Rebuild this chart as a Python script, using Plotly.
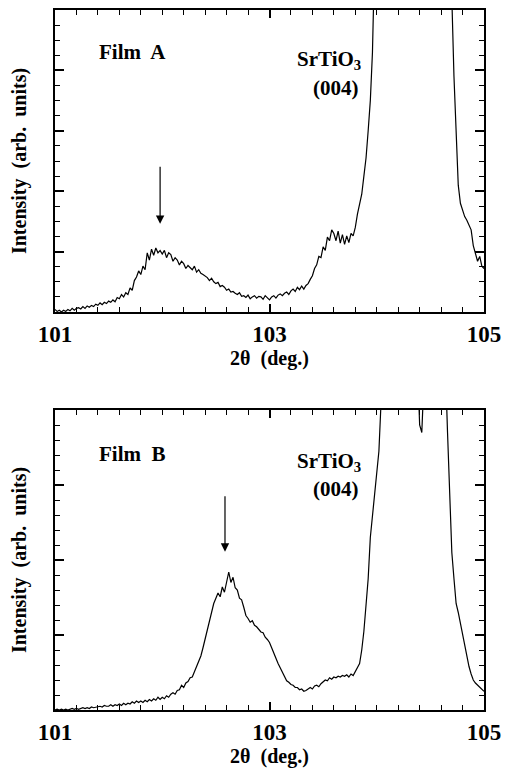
import plotly.graph_objects as go
from plotly.subplots import make_subplots

# 2-theta scan grid: 101.00 .. 105.00 deg, step 0.02
two_theta = [round(101.0 + 0.02 * i, 2) for i in range(201)]

# Film A intensity (arb. units, axis 0..5)
film_a = [
    0.04, 0.01, 0.03, 0.00, 0.03,
    0.01, 0.04, 0.02, 0.06, 0.03,
    0.06, 0.07, 0.05, 0.09, 0.06,
    0.10, 0.08, 0.11, 0.09, 0.13,
    0.11, 0.15, 0.12, 0.16, 0.14,
    0.18, 0.16, 0.20, 0.17, 0.24,
    0.22, 0.29, 0.25, 0.32, 0.29,
    0.40, 0.36, 0.52, 0.58, 0.68,
    0.62, 0.76, 0.70, 0.98, 0.86,
    1.04, 0.94, 1.06, 0.98, 1.02,
    0.96, 1.02, 0.90, 0.98, 0.95,
    0.84, 0.90, 0.86, 0.78, 0.84,
    0.80, 0.72, 0.77, 0.74, 0.70,
    0.76, 0.66, 0.70, 0.64, 0.62,
    0.60, 0.57, 0.52, 0.56, 0.50,
    0.47, 0.49, 0.42, 0.44, 0.41,
    0.36, 0.38, 0.33, 0.34, 0.31,
    0.29, 0.32, 0.26, 0.27, 0.24,
    0.28, 0.22, 0.25, 0.27, 0.23,
    0.26, 0.25, 0.21, 0.27, 0.24,
    0.20, 0.25, 0.27, 0.23, 0.28,
    0.30, 0.27, 0.31, 0.33, 0.29,
    0.35, 0.38, 0.34, 0.41, 0.37,
    0.43, 0.38, 0.44, 0.47, 0.54,
    0.60, 0.72, 0.78, 0.92, 0.90,
    1.08, 1.02, 1.24, 1.18, 1.36,
    1.30, 1.18, 1.34, 1.14, 1.28,
    1.12, 1.26, 1.15, 1.30, 1.26,
    1.40, 1.62, 1.80, 1.95, 2.25,
    2.55, 3.00, 3.50, 4.30, 5.20,
    6.5, 9.0, 14.0, 20.0, 26.0,
    30.0, 33.0, 35.0, 36.0, 35.0,
    34.0, 33.0, 31.0, 29.0, 27.0,
    25.0, 23.0, 21.0, 19.0, 17.0,
    15.0, 14.0, 13.0, 12.0, 11.0,
    10.0, 9.5, 9.0, 8.5, 8.0,
    7.5, 7.0, 6.6, 6.0, 5.6,
    5.2, 3.9, 2.9, 2.1, 1.80,
    1.68, 1.58, 1.52, 1.44, 1.36,
    1.10, 0.98, 0.84, 0.92, 0.76,
    0.72,
]

# Film B intensity (arb. units, axis 0..4)
film_b = [
    0.00, 0.01, 0.00, 0.01, 0.00,
    0.01, 0.00, 0.01, 0.02, 0.01,
    0.02, 0.01, 0.02, 0.03, 0.02,
    0.03, 0.02, 0.04, 0.03, 0.04,
    0.04, 0.05, 0.04, 0.06, 0.05,
    0.05, 0.07, 0.05, 0.07, 0.06,
    0.08, 0.06, 0.09, 0.07, 0.09,
    0.08, 0.11, 0.09, 0.12, 0.10,
    0.12, 0.10, 0.13, 0.11, 0.14,
    0.12, 0.15, 0.13, 0.17, 0.14,
    0.17, 0.15, 0.19, 0.17, 0.21,
    0.23, 0.21, 0.26, 0.27, 0.33,
    0.30, 0.36, 0.38, 0.43, 0.44,
    0.51, 0.56, 0.63, 0.72, 0.83,
    0.95, 1.09, 1.20, 1.33, 1.42,
    1.49, 1.56, 1.51, 1.64, 1.57,
    1.72, 1.84, 1.70, 1.77, 1.63,
    1.60, 1.49, 1.47, 1.37, 1.26,
    1.22, 1.17, 1.19, 1.13, 1.11,
    1.08, 1.04, 1.03, 0.97, 0.94,
    0.90, 0.83, 0.77, 0.69, 0.62,
    0.56, 0.49, 0.45, 0.39, 0.37,
    0.34, 0.33, 0.30, 0.30, 0.27,
    0.28, 0.25, 0.26, 0.28, 0.30,
    0.28, 0.32, 0.33, 0.31, 0.35,
    0.37, 0.40, 0.39, 0.43, 0.41,
    0.44, 0.43, 0.45, 0.44, 0.46,
    0.45, 0.47, 0.44, 0.48, 0.46,
    0.52, 0.56, 0.62, 0.80, 1.05,
    1.40, 1.75, 2.30, 2.60, 2.85,
    3.10, 3.45, 4.10, 5.00, 6.50,
    8.0, 10.0, 12.0, 14.0, 16.0,
    18.0, 19.0, 20.0, 20.0, 19.0,
    17.0, 14.0, 10.0, 6.5, 4.6,
    3.8, 3.7, 4.4, 6.0, 9.0,
    12.0, 14.0, 14.0, 12.0, 10.0,
    8.0, 6.0, 4.6, 3.7, 3.0,
    2.10, 1.75, 1.42, 1.30, 1.15,
    1.00, 0.85, 0.70, 0.58, 0.48,
    0.40, 0.36, 0.33, 0.30, 0.28,
    0.25,
]

x_label_vals = [101, 103, 105]
x_label_text = ["101", "103", "105"]
x_unlabeled_major = [102, 104]

FONT = "Liberation Serif, Times New Roman, serif"
BLACK = "black"

fig = make_subplots(rows=2, cols=1)
fig.add_trace(go.Scatter(x=two_theta, y=film_a, mode="lines",
                         line=dict(color=BLACK, width=1.2), showlegend=False), row=1, col=1)
fig.add_trace(go.Scatter(x=two_theta, y=film_b, mode="lines",
                         line=dict(color=BLACK, width=1.2), showlegend=False), row=2, col=1)

xd = [55 / 505, 484 / 505]
common_x = dict(
    range=[101, 105], domain=xd, showline=True, linewidth=2, linecolor=BLACK,
    mirror="ticks", ticks="inside", ticklen=8, tickwidth=1.5, tickcolor=BLACK,
    tickvals=x_label_vals, ticktext=x_label_text, showgrid=False, zeroline=False,
    automargin=False,
    tickfont=dict(family=FONT, size=23, color=BLACK, weight="bold"),
    minor=dict(ticks="inside", dtick=0.2, tick0=101, ticklen=5, tickwidth=1.2,
               tickcolor=BLACK, showgrid=False),
    title=dict(text="2θ  (deg.)", font=dict(family=FONT, size=20, color=BLACK, weight="bold"),
               standoff=4),
)
common_y = dict(
    showline=True, linewidth=2, linecolor=BLACK, mirror="ticks", ticks="inside",
    ticklen=9, tickwidth=1.5, tickcolor=BLACK, showticklabels=False, showgrid=False,
    zeroline=False, dtick=1, tick0=0, automargin=False,
    title=dict(text="Intensity  (arb.  units)",
               font=dict(family=FONT, size=20, color=BLACK, weight="bold"), standoff=21),
)

fig.update_xaxes(**common_x)
fig.update_yaxes(**common_y)
fig.update_yaxes(range=[0, 5], domain=[1 - 312 / 768, 1 - 10 / 768],
                 minor=dict(ticks="inside", dtick=0.25, ticklen=5, tickwidth=1.2,
                            tickcolor=BLACK, showgrid=False), row=1, col=1)
fig.update_yaxes(range=[0, 4], domain=[1 - 710 / 768, 1 - 410 / 768],
                 minor=dict(ticks="inside", dtick=0.2, ticklen=5, tickwidth=1.2,
                            tickcolor=BLACK, showgrid=False), row=2, col=1)

# overlay axes carrying the longer unlabeled ticks at 102 and 104
extra = dict(range=[101, 105], domain=xd, tickvals=x_unlabeled_major, ticks="inside",
             ticklen=8, tickwidth=1.5, tickcolor=BLACK, mirror="ticks", showline=True,
             linewidth=2, linecolor=BLACK, showticklabels=False, showgrid=False,
             zeroline=False, automargin=False)
fig.update_layout(
    xaxis3=dict(overlaying="x", anchor="y", **extra),
    xaxis4=dict(overlaying="x2", anchor="y2", **extra),
)

lab = dict(family=FONT, size=21, color=BLACK, weight="bold")
annotations = [
    dict(xref="x", yref="y", x=101.72, y=4.30, text="Film  A", showarrow=False, font=lab),
    dict(xref="x", yref="y", x=103.87, y=4.17, text="SrTiO<sub>3</sub>", showarrow=False,
         font=lab, xanchor="right"),
    dict(xref="x", yref="y", x=103.85, y=3.71, text="(004)", showarrow=False, font=lab,
         xanchor="right"),
    dict(xref="x2", yref="y2", x=101.72, y=3.41, text="Film  B", showarrow=False, font=lab),
    dict(xref="x2", yref="y2", x=103.87, y=3.31, text="SrTiO<sub>3</sub>", showarrow=False,
         font=lab, xanchor="right"),
    dict(xref="x2", yref="y2", x=103.85, y=2.95, text="(004)", showarrow=False, font=lab,
         xanchor="right"),
    dict(xref="x", yref="y", x=101.98, y=1.46, ax=101.98, ay=2.43, axref="x", ayref="y",
         text="", showarrow=True, arrowhead=2, arrowsize=1.4, arrowwidth=1.2, arrowcolor=BLACK),
    dict(xref="x2", yref="y2", x=102.585, y=2.11, ax=102.585, ay=2.87, axref="x2", ayref="y2",
         text="", showarrow=True, arrowhead=2, arrowsize=1.4, arrowwidth=1.2, arrowcolor=BLACK),
]

fig.update_layout(
    width=505, height=768, margin=dict(l=0, r=0, t=0, b=0),
    paper_bgcolor="white", plot_bgcolor="white", annotations=annotations,
    font=dict(family=FONT, color=BLACK),
)

fig.write_html("out.html")
